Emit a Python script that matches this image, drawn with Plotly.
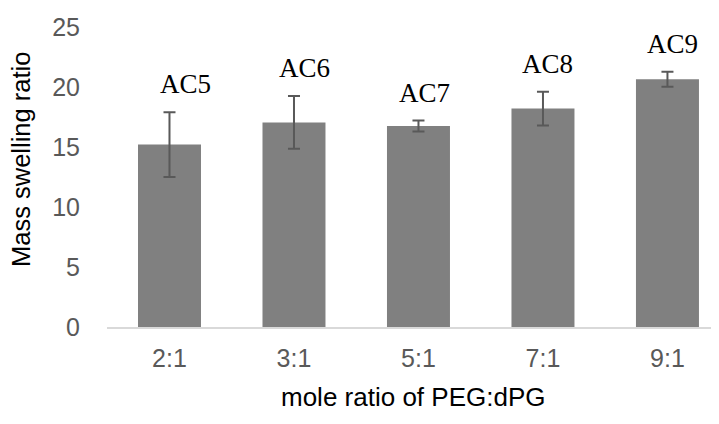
import plotly.graph_objects as go

categories = ["2:1", "3:1", "5:1", "7:1", "9:1"]
swelling = [15.2, 17.05, 16.75, 18.2, 20.65]
errors = [2.7, 2.2, 0.45, 1.4, 0.62]
labels = ["AC5", "AC6", "AC7", "AC8", "AC9"]
y_ticks = [0, 5, 10, 15, 20, 25]

label_xshift = [16, 11, 6, 5, 5]

x_idx = list(range(len(categories)))

fig = go.Figure()
fig.add_trace(go.Bar(
    x=x_idx, y=swelling, width=0.506,
    marker=dict(color="#808080", line=dict(width=0)),
    error_y=dict(type="data", array=errors, visible=True,
                 color="#595959", thickness=2, width=6),
    showlegend=False,
))

for i, (v, e, t) in enumerate(zip(swelling, errors, labels)):
    fig.add_annotation(
        x=i, y=v + e, text=t, showarrow=False,
        xanchor="center", yanchor="bottom", yshift=11, xshift=label_xshift[i],
        font=dict(family="Liberation Serif, Times New Roman, serif", size=27, color="#000000"),
    )

fig.add_annotation(
    text="Mass swelling ratio", xref="paper", yref="paper",
    x=0, y=0.5, xshift=-86, yshift=17, textangle=-90, showarrow=False,
    xanchor="center", yanchor="middle",
    font=dict(family="Liberation Sans, Arial, sans-serif", size=25.5, color="#000000"),
)
fig.add_annotation(
    text="mole ratio of PEG:dPG", xref="paper", yref="paper",
    x=0.5, y=0, yshift=-70, showarrow=False,
    xanchor="center", yanchor="middle",
    font=dict(family="Liberation Sans, Arial, sans-serif", size=26, color="#000000"),
)

# page body has an 8px default margin; the figure is sized to fit the window
fig.update_layout(
    width=711, height=416,
    margin=dict(l=99, r=0, t=19, b=97),
    paper_bgcolor="white", plot_bgcolor="white",
    xaxis=dict(
        range=[-0.502, 4.414], tickmode="array", tickvals=x_idx, ticktext=categories,
        showgrid=False, zeroline=False, showline=True, linecolor="#d9d9d9", linewidth=1.5,
        ticks="", ticklabelstandoff=8, automargin=False,
        tickfont=dict(family="Liberation Sans, Arial, sans-serif", size=25, color="#595959"),
    ),
    yaxis=dict(
        range=[0, 25], tickmode="array", tickvals=y_ticks,
        showgrid=False, zeroline=False, showline=False,
        ticks="", ticklabelstandoff=26, automargin=False,
        tickfont=dict(family="Liberation Sans, Arial, sans-serif", size=25, color="#595959"),
    ),
)

fig.write_html("out.html")
